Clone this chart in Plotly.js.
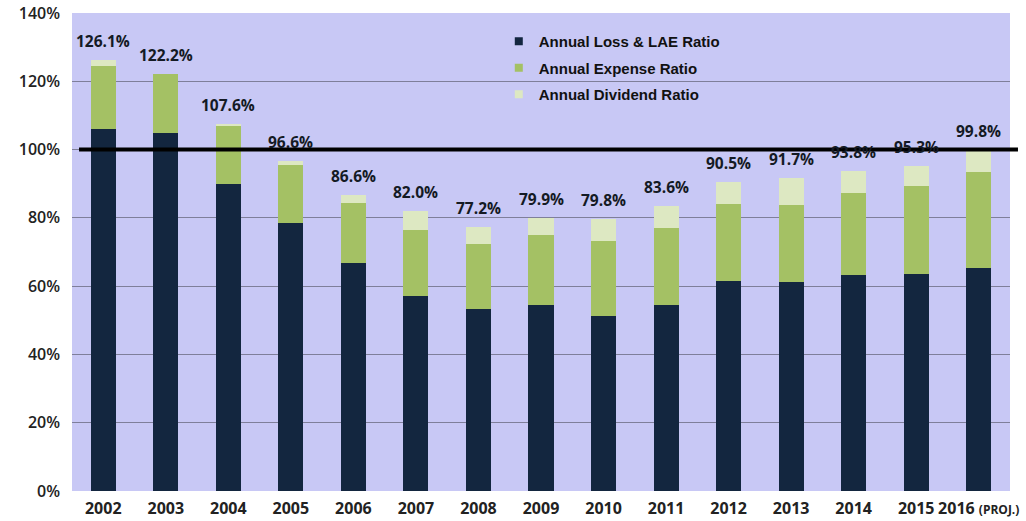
<!DOCTYPE html>
<html>
<head>
<meta charset="utf-8">
<script src="https://cdn.plot.ly/plotly-3.0.1.min.js"></script>
<style>html,body{margin:0;padding:0;background:#fff;}#chart{width:1026px;height:521px;}</style>
</head>
<body>
<div id="chart"></div>
<script>
const years = ["2002","2003","2004","2005","2006","2007","2008","2009","2010","2011","2012","2013","2014","2015","2016"];
const yearLabels = ["2002","2003","2004","2005","2006","2007","2008","2009","2010","2011","2012","2013","2014","2015","2016 <span style='font-size:12px'>(PROJ.)</span>"];
const lossRatio = [105.9,105.0,89.9,78.6,66.9,57.2,53.4,54.6,51.3,54.6,61.5,61.1,63.3,63.6,65.4];
const expenseRatio = [18.6,17.0,17.0,17.0,17.5,19.1,18.9,20.4,21.9,22.3,22.6,22.7,24.1,25.6,27.9];
const dividendRatio = [1.6,0.2,0.7,1.0,2.2,5.7,4.9,4.9,6.6,6.7,6.4,7.9,6.4,6.1,6.5];
const combinedLabels = ["126.1%","122.2%","107.6%","96.6%","86.6%","82.0%","77.2%","79.9%","79.8%","83.6%","90.5%","91.7%","93.8%","95.3%","99.8%"];
const seriesNames = ["Annual Loss & LAE Ratio","Annual Expense Ratio","Annual Dividend Ratio"];
const colors = ["#13263f","#a4c164","#dde8c2"];
const breakEven = 100;

const series = [lossRatio, expenseRatio, dividendRatio];
const traces = [];
series.forEach((vals, i) => {
  traces.push({type:"bar", x:years, y:vals, name:seriesNames[i], marker:{color:colors[i]}, showlegend:false, hoverinfo:"y"});
});
series.forEach((vals, i) => {
  traces.push({type:"scatter", mode:"markers", x:[years[0]], y:[null], name:seriesNames[i],
    legendgroup:"g"+i, marker:{symbol:"square", size:8, color:colors[i]}, showlegend:true});
});

const totals = years.map((y, i) => lossRatio[i] + expenseRatio[i] + dividendRatio[i]);
const annotations = years.map((y, i) => ({
  x:i, y:totals[i], xref:"x", yref:"y", text:combinedLabels[i], showarrow:false,
  yanchor:"bottom", yshift:6,
  font:{family:"Open Sans", size:15.5, weight:700, color:"#141a24"}
}));

const layout = {
  width:1026, height:521,
  margin:{l:72, r:16, t:13, b:30},
  paper_bgcolor:"#ffffff",
  plot_bgcolor:"#c8c8f5",
  barmode:"stack",
  bargap:0.6,
  showlegend:true,
  legend:{x:0.455, y:0.975, xanchor:"left", yanchor:"top", traceorder:"grouped", tracegroupgap:4,
    bgcolor:"rgba(0,0,0,0)", font:{family:"Liberation Sans", size:15, weight:700, color:"#111"}},
  xaxis:{type:"category", categoryorder:"array", categoryarray:years, tickvals:years, ticktext:yearLabels,
    range:[-0.5, years.length-0.5], showgrid:false, zeroline:false, ticklabelstandoff:6,
    showline:false, ticks:"", tickfont:{family:"Open Sans", size:16, weight:700, color:"#222"}},
  yaxis:{range:[0,140], dtick:20, ticksuffix:"%", showgrid:true, gridcolor:"#7f7f9a", gridwidth:1,
    zeroline:false, showline:false, ticks:"", ticklabelstandoff:11,
    tickfont:{family:"Open Sans", size:16, weight:600, color:"#222"}},
  annotations:annotations,
  shapes:[{type:"line", xref:"paper", yref:"y", x0:0.0075, x1:1.0085, y0:breakEven, y1:breakEven,
    line:{color:"#000", width:4}, layer:"above"}]
};

Plotly.newPlot("chart", traces, layout, {displayModeBar:false, staticPlot:true});
</script>
</body>
</html>
